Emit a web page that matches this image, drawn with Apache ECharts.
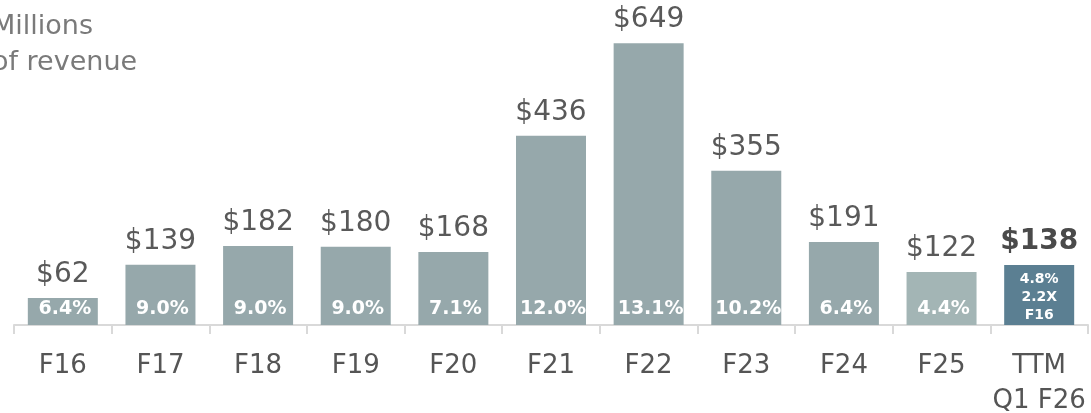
<!DOCTYPE html>
<html>
<head>
<meta charset="utf-8">
<title>Revenue</title>
<script src="https://cdn.jsdelivr.net/npm/echarts@6/dist/echarts.min.js"></script>
<style>
  html, body { margin: 0; padding: 0; background: #fff; }
  #chart { width: 1091px; height: 413px; }
</style>
</head>
<body>
<div id="chart"></div>
<script>
// categories and values
var years = ['F16', 'F17', 'F18', 'F19', 'F20', 'F21', 'F22', 'F23', 'F24', 'F25', 'TTM\nQ1 F26']
var revenue = [62, 139, 182, 180, 168, 436, 649, 355, 191, 122, 138]
var margins = ['6.4%', '9.0%', '9.0%', '9.0%', '7.1%', '12.0%', '13.1%', '10.2%', '6.4%', '4.4%', '4.8%\n2.2X\nF16']

var font = 'DejaVu Sans'
var grey = '#96a8ab'

var chart = echarts.init(document.getElementById('chart'))

// bar body + percent label inside
var bars = revenue.map(function (v, i) {
  var item = { value: v }
  if (i === 9) item.itemStyle = { color: '#a3b5b5' }
  if (i === 10) {
    item.itemStyle = { color: '#5b7f92' }
    item.label = { fontSize: 14, lineHeight: 18, distance: 1, offset: [0, 0] }
  }
  return item
})

// same values again, transparent, only to carry the $ label on top
var tops = revenue.map(function (v, i) {
  var item = { value: v }
  if (i === 10) item.label = { fontWeight: 'bold', color: '#4a4a4a' }
  return item
})

chart.setOption({
  animation: false,
  textStyle: { fontFamily: font },
  grid: { left: 14, right: 3, top: 21, bottom: 88, outerBoundsMode: 'none' },
  graphic: [
    {
      type: 'text',
      left: -8,
      top: 9,
      style: {
        text: 'Millions\nof revenue',
        font: '27px "DejaVu Sans"',
        lineHeight: 36,
        fill: '#7a7a7a'
      }
    }
  ],
  xAxis: {
    type: 'category',
    data: years,
    axisLine: { lineStyle: { color: '#d9d9d9', width: 2 } },
    axisTick: { show: true, length: 9, lineStyle: { color: '#d9d9d9', width: 2 } },
    axisLabel: {
      fontSize: 26,
      lineHeight: 35,
      color: '#555',
      margin: 24,
      interval: 0
    }
  },
  yAxis: {
    type: 'value',
    min: 0,
    max: 700,
    show: false
  },
  series: [
    {
      name: 'revenue',
      type: 'bar',
      data: bars,
      barWidth: 70,
      itemStyle: { color: grey },
      label: {
        show: true,
        position: 'insideBottom',
        distance: 6,
        offset: [2, 0],
        color: '#fff',
        fontWeight: 'bold',
        fontSize: 19,
        formatter: function (p) { return margins[p.dataIndex] }
      },
      z: 2
    },
    {
      name: 'value',
      type: 'bar',
      data: tops,
      barWidth: 70,
      barGap: '-100%',
      itemStyle: { color: 'rgba(0,0,0,0)' },
      label: {
        show: true,
        position: 'top',
        distance: 9,
        color: '#595959',
        fontSize: 28,
        formatter: '${c}'
      },
      z: 1
    }
  ]
})
</script>
</body>
</html>
